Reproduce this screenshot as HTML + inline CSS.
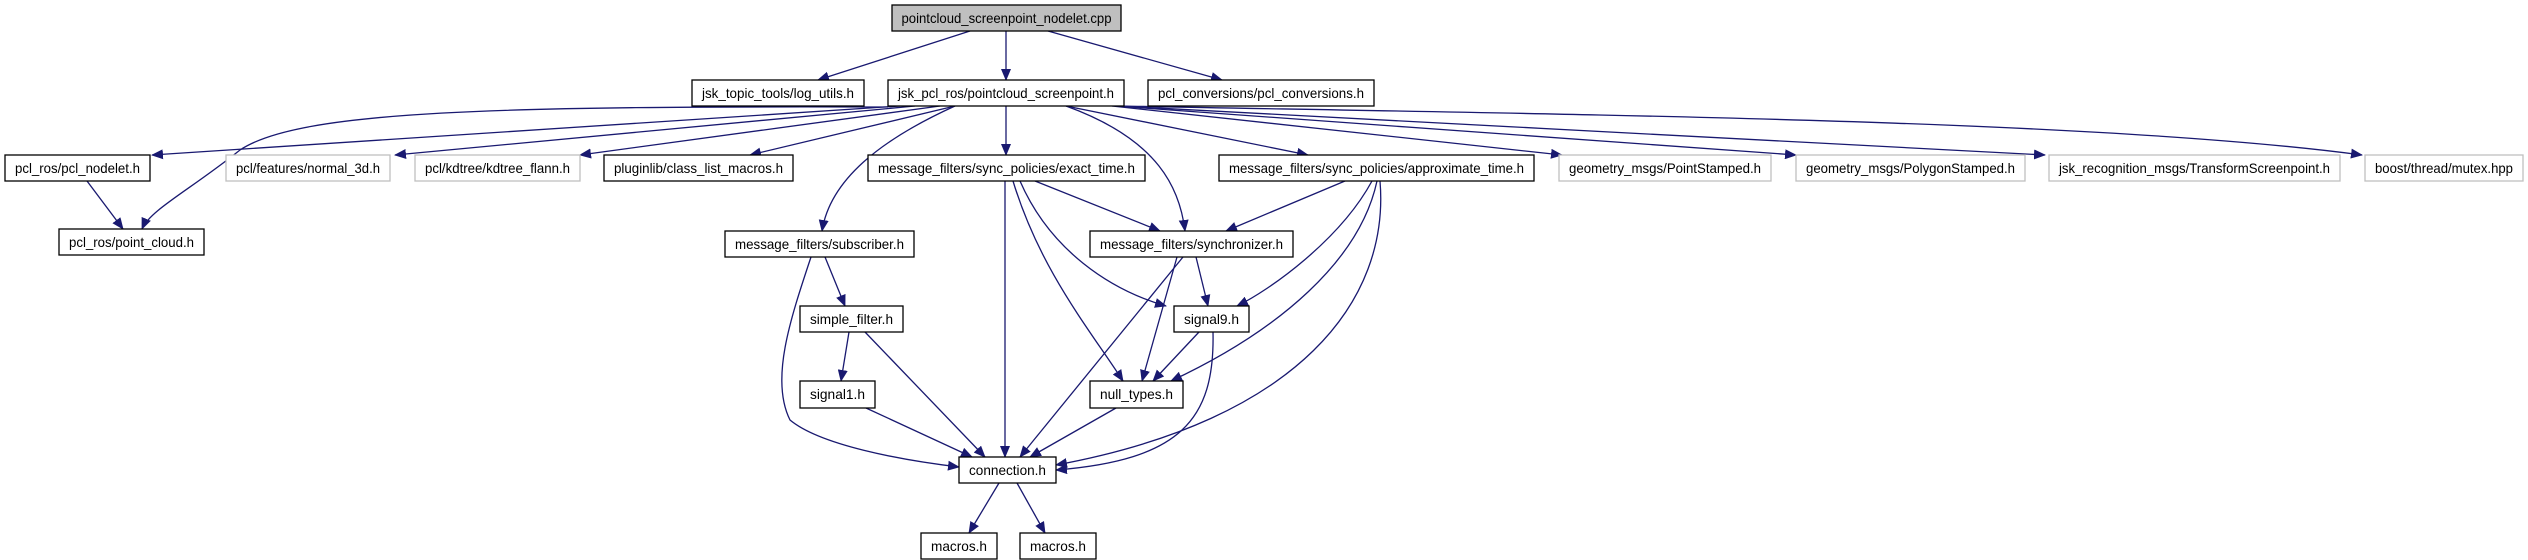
<!DOCTYPE html>
<html><head><meta charset="utf-8"><style>
html,body{margin:0;padding:0;background:#fff;}
svg{display:block}
text{font-family:"Liberation Sans",sans-serif;font-size:14px;fill:#000}
</style></head><body>
<svg width="2528" height="560" viewBox="0 0 2528 560" xmlns="http://www.w3.org/2000/svg">
<defs>
<marker id="a" markerWidth="12" markerHeight="10" refX="11" refY="5" orient="auto" markerUnits="userSpaceOnUse">
<path d="M0,0 L12,5 L0,10 z" fill="#191970"/>
</marker>
</defs>
<g fill="none" stroke="#191970" stroke-width="1.3" marker-end="url(#a)">
<path d="M970,31 L818,80"/>
<path d="M1006,31 L1006,80"/>
<path d="M1048,31 L1222,80"/>
<path d="M900,106 L152,155"/>
<path d="M888,107 C500,106 300,110 240,150 C190,190 150,210 142,229"/>
<path d="M915,106 L395,155"/>
<path d="M940,106 L580,155"/>
<path d="M955,106 L750,155"/>
<path d="M1006,106 L1006,155"/>
<path d="M955,106 C880,140 830,180 822,231"/>
<path d="M1066,106 C1160,140 1180,190 1185,231"/>
<path d="M1066,106 L1308,155"/>
<path d="M1112,106 L1562,155"/>
<path d="M1115,106 L1796,155"/>
<path d="M1118,106 L2045,155"/>
<path d="M1120,106 C1600,115 2100,120 2362,155"/>
<path d="M87,181 L123,229"/>
<path d="M1035,181 L1160,231"/>
<path d="M1005,181 L1005,457"/>
<path d="M1013,181 C1040,270 1090,330 1123,381"/>
<path d="M1020,181 C1050,250 1110,290 1166,306"/>
<path d="M1345,181 L1226,231"/>
<path d="M1372,181 C1340,240 1270,290 1237,306"/>
<path d="M1377,181 C1360,260 1280,330 1171,381"/>
<path d="M1380,181 C1390,300 1300,420 1056,465"/>
<path d="M825,257 L845,306"/>
<path d="M811,257 C790,320 770,380 790,420 C820,445 900,460 959,467"/>
<path d="M849,332 L841,381"/>
<path d="M865,332 L985,457"/>
<path d="M866,408 L972,457"/>
<path d="M1183,257 L1020,457"/>
<path d="M1177,257 L1142,381"/>
<path d="M1196,257 L1208,306"/>
<path d="M1199,332 L1153,381"/>
<path d="M1213,332 C1215,420 1180,460 1056,470"/>
<path d="M1116,408 L1030,457"/>
<path d="M999,483 L969,533"/>
<path d="M1017,483 L1045,533"/>
</g>
<g stroke-width="1.3">
<rect x="892" y="5" width="229" height="26" fill="#bfbfbf" stroke="#000"/>
<rect x="692" y="80" width="172" height="26" fill="#fff" stroke="#000"/>
<rect x="888" y="80" width="236" height="26" fill="#fff" stroke="#000"/>
<rect x="1148" y="80" width="226" height="26" fill="#fff" stroke="#000"/>
<rect x="5" y="155" width="145" height="26" fill="#fff" stroke="#000"/>
<rect x="226" y="155" width="164" height="26" fill="#fff" stroke="#bfbfbf"/>
<rect x="415" y="155" width="165" height="26" fill="#fff" stroke="#bfbfbf"/>
<rect x="604" y="155" width="189" height="26" fill="#fff" stroke="#000"/>
<rect x="868" y="155" width="277" height="26" fill="#fff" stroke="#000"/>
<rect x="1219" y="155" width="315" height="26" fill="#fff" stroke="#000"/>
<rect x="1559" y="155" width="212" height="26" fill="#fff" stroke="#bfbfbf"/>
<rect x="1796" y="155" width="229" height="26" fill="#fff" stroke="#bfbfbf"/>
<rect x="2049" y="155" width="291" height="26" fill="#fff" stroke="#bfbfbf"/>
<rect x="2365" y="155" width="158" height="26" fill="#fff" stroke="#bfbfbf"/>
<rect x="59" y="229" width="145" height="26" fill="#fff" stroke="#000"/>
<rect x="725" y="231" width="189" height="26" fill="#fff" stroke="#000"/>
<rect x="1090" y="231" width="203" height="26" fill="#fff" stroke="#000"/>
<rect x="800" y="306" width="103" height="26" fill="#fff" stroke="#000"/>
<rect x="1174" y="306" width="75" height="26" fill="#fff" stroke="#000"/>
<rect x="800" y="381" width="75" height="27" fill="#fff" stroke="#000"/>
<rect x="1090" y="381" width="93" height="27" fill="#fff" stroke="#000"/>
<rect x="959" y="457" width="97" height="26" fill="#fff" stroke="#000"/>
<rect x="921" y="533" width="76" height="26" fill="#fff" stroke="#000"/>
<rect x="1020" y="533" width="76" height="26" fill="#fff" stroke="#000"/>
</g>
<g text-anchor="middle" lengthAdjust="spacingAndGlyphs">
<text x="1006.5" y="23" textLength="210" lengthAdjust="spacingAndGlyphs">pointcloud_screenpoint_nodelet.cpp</text>
<text x="778" y="98" textLength="152" lengthAdjust="spacingAndGlyphs">jsk_topic_tools/log_utils.h</text>
<text x="1006" y="98" textLength="216" lengthAdjust="spacingAndGlyphs">jsk_pcl_ros/pointcloud_screenpoint.h</text>
<text x="1261" y="98" textLength="206" lengthAdjust="spacingAndGlyphs">pcl_conversions/pcl_conversions.h</text>
<text x="77.5" y="173" textLength="125" lengthAdjust="spacingAndGlyphs">pcl_ros/pcl_nodelet.h</text>
<text x="308" y="173" textLength="144" lengthAdjust="spacingAndGlyphs">pcl/features/normal_3d.h</text>
<text x="497.5" y="173" textLength="145" lengthAdjust="spacingAndGlyphs">pcl/kdtree/kdtree_flann.h</text>
<text x="698.5" y="173" textLength="169" lengthAdjust="spacingAndGlyphs">pluginlib/class_list_macros.h</text>
<text x="1006.5" y="173" textLength="257" lengthAdjust="spacingAndGlyphs">message_filters/sync_policies/exact_time.h</text>
<text x="1376.5" y="173" textLength="295" lengthAdjust="spacingAndGlyphs">message_filters/sync_policies/approximate_time.h</text>
<text x="1665" y="173" textLength="192" lengthAdjust="spacingAndGlyphs">geometry_msgs/PointStamped.h</text>
<text x="1910.5" y="173" textLength="209" lengthAdjust="spacingAndGlyphs">geometry_msgs/PolygonStamped.h</text>
<text x="2194.5" y="173" textLength="271" lengthAdjust="spacingAndGlyphs">jsk_recognition_msgs/TransformScreenpoint.h</text>
<text x="2444" y="173" textLength="138" lengthAdjust="spacingAndGlyphs">boost/thread/mutex.hpp</text>
<text x="131.5" y="247" textLength="125" lengthAdjust="spacingAndGlyphs">pcl_ros/point_cloud.h</text>
<text x="819.5" y="249" textLength="169" lengthAdjust="spacingAndGlyphs">message_filters/subscriber.h</text>
<text x="1191.5" y="249" textLength="183" lengthAdjust="spacingAndGlyphs">message_filters/synchronizer.h</text>
<text x="851.5" y="324" textLength="83" lengthAdjust="spacingAndGlyphs">simple_filter.h</text>
<text x="1211.5" y="324" textLength="55" lengthAdjust="spacingAndGlyphs">signal9.h</text>
<text x="837.5" y="399" textLength="55" lengthAdjust="spacingAndGlyphs">signal1.h</text>
<text x="1136.5" y="399" textLength="73" lengthAdjust="spacingAndGlyphs">null_types.h</text>
<text x="1007.5" y="475" textLength="77" lengthAdjust="spacingAndGlyphs">connection.h</text>
<text x="959" y="551" textLength="56" lengthAdjust="spacingAndGlyphs">macros.h</text>
<text x="1058" y="551" textLength="56" lengthAdjust="spacingAndGlyphs">macros.h</text>
</g>
</svg>
</body></html>
